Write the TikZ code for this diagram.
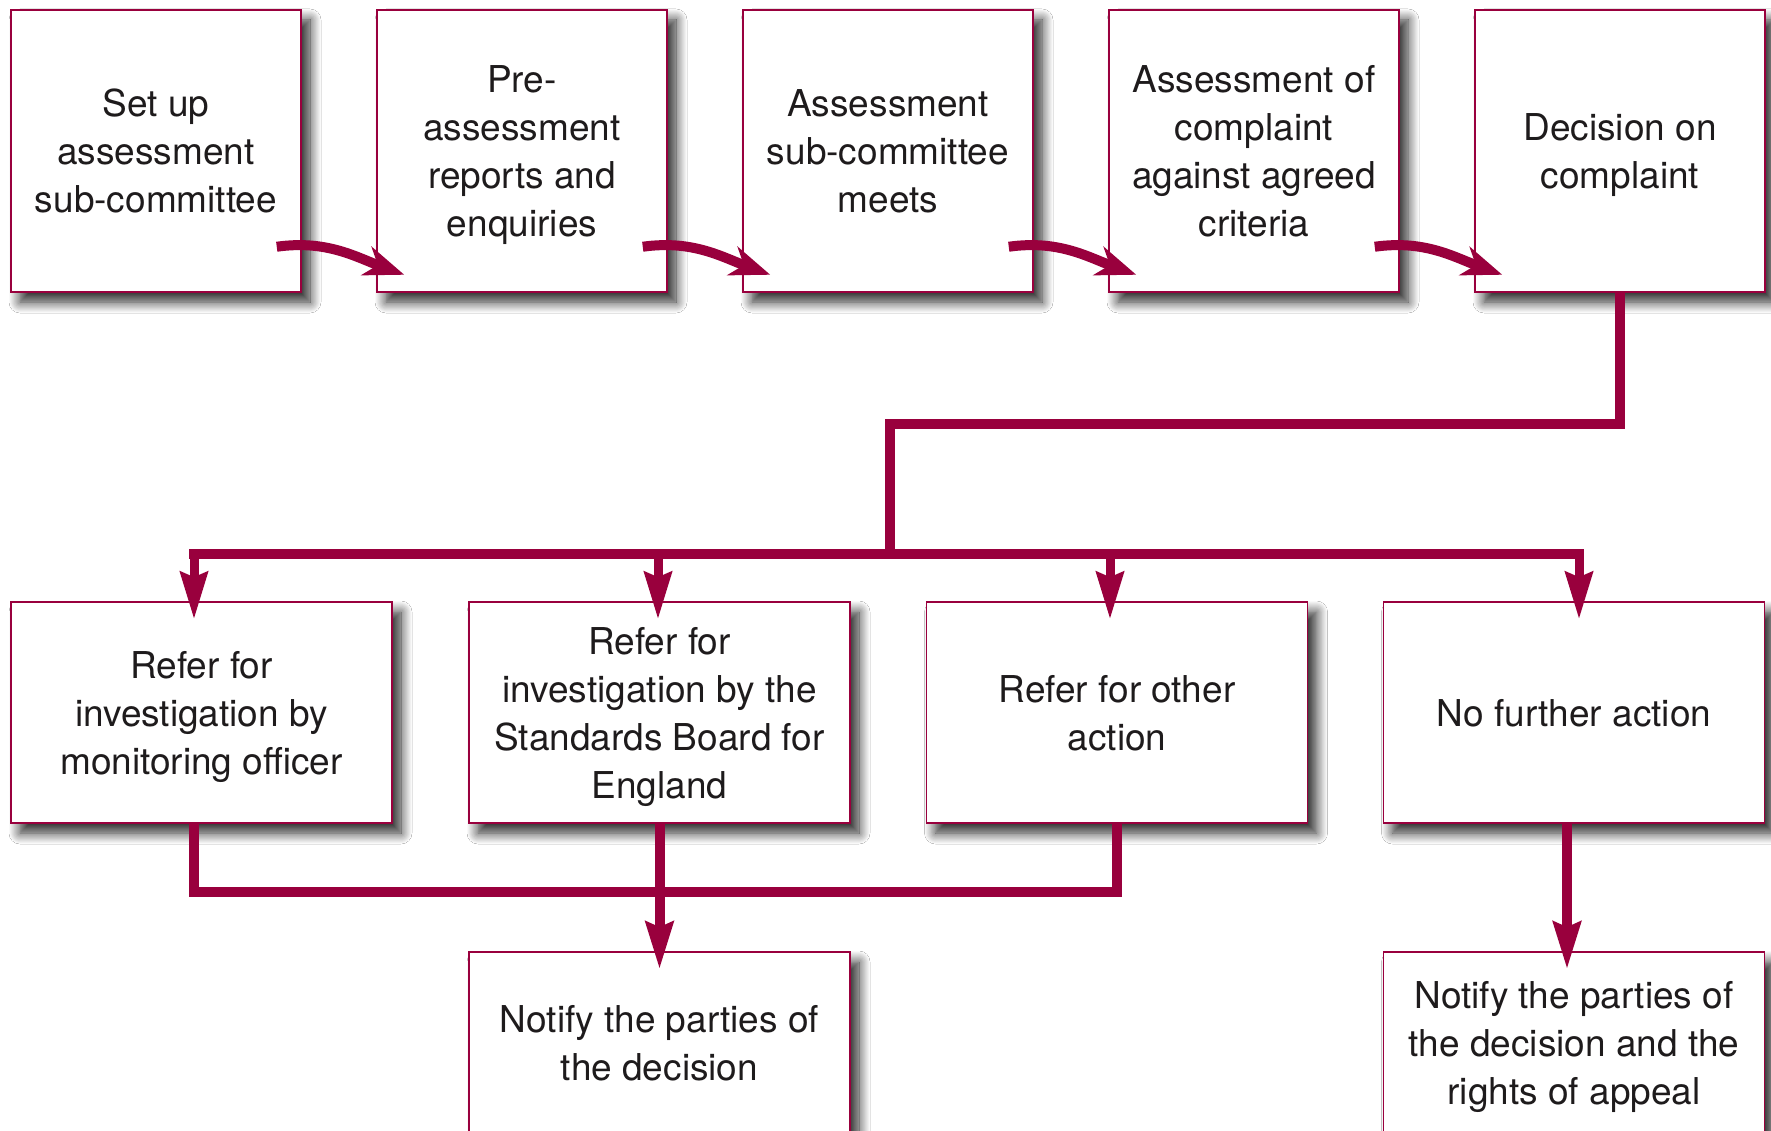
\documentclass[tikz,border=0pt]{standalone}
\usepackage{fontspec}
\setmainfont{TeX Gyre Heros}
\usetikzlibrary{arrows.meta,shadows.blur,calc}
\definecolor{wine}{RGB}{153,0,61}
\definecolor{txt}{RGB}{30,27,28}
\begin{document}
\begin{tikzpicture}[x=1pt,y=-1pt,
  box/.style={draw=wine, line width=1.5pt, fill=white, align=center, inner sep=0pt, text=txt,
    font=\fontsize{37pt}{48pt}\selectfont, text depth=0pt,
    blur shadow={shadow xshift=9pt, shadow yshift=-10pt, shadow blur radius=11pt, shadow opacity=85, shadow blur steps=12}},
  topbox/.style={box, minimum width=290pt, minimum height=282pt},
  midbox/.style={box, minimum width=381pt, minimum height=221pt},
  lowbox/.style={box, minimum width=381pt, minimum height=182pt},
  conn/.style={draw=wine, line width=10pt},
  downarrow/.style={draw=wine, line width=9pt, -{Stealth[length=47pt,width=27pt,inset=5pt]}, shorten >=-18pt},
  curarrow/.style={draw=wine, line width=10pt, -{Stealth[length=40pt,width=30pt,inset=12pt]}},
]
\useasboundingbox (0,0) rectangle (1771,1131);
\fill[white] (0,0) rectangle (1771,1131);

\node[topbox] (t1) at (156,151) {Set up\\assessment\\sub-committee};
\node[topbox] (t2) at (522,151) {Pre-\\assessment\\reports and\\enquiries};
\node[topbox] (t3) at (888,151) {Assessment\\sub-committee\\meets};
\node[topbox] (t4) at (1254,151) {Assessment of\\complaint\\against agreed\\criteria};
\node[topbox] (t5) at (1620,151) {Decision on\\complaint};

\node[midbox] (m1) at (201.5,712.5) {Refer for\\investigation by\\monitoring officer};
\node[midbox] (m2) at (659.5,712.5) {Refer for\\investigation by the\\Standards Board for\\England};
\node[midbox] (m3) at (1117,712.5) {Refer for other\\action};
\node[midbox] (m4) at (1574,712.5) {No further action};

\node[lowbox] (l1) at (659.5,1043) {Notify the parties of\\the decision};
\node[lowbox] (l2) at (1574,1043) {Notify the parties of\\the decision and the\\rights of appeal};

% curved arrows between top boxes
\foreach \a/\b in {t1/t2,t2/t3,t3/t4,t4/t5}
  \draw[curarrow] ([xshift=-25pt,yshift=46pt]\a.south east) to[out=8,in=160] ([xshift=28pt,yshift=18pt]\b.south west);

% distribution
\coordinate (hub) at (890,554);
\coordinate (barL) at (194,554);
\coordinate (barR) at (1579,554);
\coordinate (d2) at (658,554);
\coordinate (d3) at (1110,554);
\draw[conn] (t5.south) -- ++(0,131) -| (hub);
\draw[conn, line cap=rect] (barL) -- (barR);
\draw[downarrow] (barL) -- (barL |- m1.north);
\draw[downarrow] (d2) -- (d2 |- m2.north);
\draw[downarrow] (d3) -- (d3 |- m3.north);
\draw[downarrow] (barR) -- (barR |- m4.north);

% joins below
\draw[conn] ([xshift=-7.5pt]m1.south) -- ++(0,68) -| (m3.south);
\draw[downarrow, line width=10pt] (m2.south) -- (l1.north);
\draw[downarrow, line width=10pt] ([xshift=-7pt]m4.south) -- ([xshift=-7pt]l2.north);
\end{tikzpicture}
\end{document}
